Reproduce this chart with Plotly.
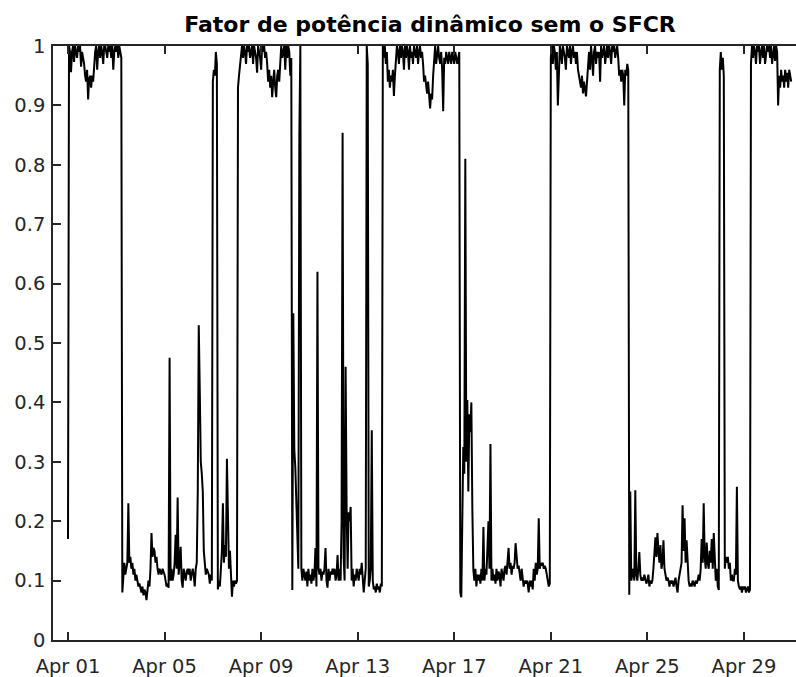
import plotly.graph_objects as go
import pandas as pd

# Hourly dynamic power factor, April (one list per day, 24 hourly values)
apr01 = [0.17, 1.0, 0.99, 0.956, 0.99, 1.0, 0.973, 1.0, 0.99, 0.98, 1.0, 0.99, 1.0, 0.965, 0.99, 0.98, 0.97, 0.95, 0.94, 0.96, 0.91, 0.945, 0.95, 0.93]
apr02 = [0.95, 0.94, 0.97, 0.99, 1.0, 0.96, 0.99, 1.0, 0.98, 1.0, 0.99, 0.97, 1.0, 1.0, 0.99, 0.98, 1.0, 0.99, 1.0, 0.98, 1.0, 0.96, 0.99, 1.0]
apr03 = [0.99, 1.0, 0.98, 1.0, 0.99, 0.98, 0.08, 0.10, 0.13, 0.11, 0.12, 0.13, 0.23, 0.13, 0.14, 0.12, 0.13, 0.11, 0.12, 0.10, 0.11, 0.10, 0.09, 0.095]
apr04 = [0.085, 0.08, 0.09, 0.075, 0.085, 0.08, 0.067, 0.08, 0.10, 0.09, 0.12, 0.18, 0.14, 0.155, 0.15, 0.13, 0.14, 0.12, 0.11, 0.12, 0.115, 0.11, 0.12, 0.115]
apr05 = [0.11, 0.10, 0.09, 0.095, 0.088, 0.475, 0.10, 0.12, 0.10, 0.11, 0.13, 0.177, 0.12, 0.24, 0.11, 0.13, 0.157, 0.10, 0.088, 0.12, 0.11, 0.10, 0.115, 0.12]
apr06 = [0.11, 0.12, 0.10, 0.115, 0.12, 0.11, 0.09, 0.12, 0.13, 0.25, 0.53, 0.42, 0.30, 0.28, 0.25, 0.15, 0.12, 0.11, 0.12, 0.115, 0.11, 0.095, 0.11, 0.10]
apr07 = [0.94, 0.96, 0.95, 0.99, 0.97, 0.085, 0.10, 0.09, 0.12, 0.15, 0.23, 0.13, 0.16, 0.14, 0.305, 0.18, 0.12, 0.15, 0.10, 0.073, 0.10, 0.09, 0.10, 0.095]
apr08 = [0.10, 0.93, 0.95, 0.97, 0.99, 1.0, 0.98, 1.0, 0.99, 0.97, 1.0, 0.99, 1.0, 0.98, 0.99, 1.0, 0.97, 1.0, 0.99, 0.98, 0.955, 1.0, 0.99, 0.98]
apr09 = [0.96, 1.0, 0.99, 1.0, 0.98, 0.99, 0.97, 0.94, 0.96, 0.93, 0.95, 0.914, 0.94, 0.96, 0.93, 0.914, 0.95, 0.96, 0.94, 0.98, 1.0, 0.98, 0.99, 1.0]
apr10 = [0.96, 1.0, 0.98, 1.0, 0.99, 0.95, 0.98, 0.084, 0.55, 0.32, 0.29, 0.22, 0.20, 0.12, 0.85, 1.0, 0.12, 0.10, 0.12, 0.11, 0.10, 0.115, 0.09, 0.12]
apr11 = [0.10, 0.11, 0.095, 0.12, 0.10, 0.11, 0.155, 0.09, 0.62, 0.12, 0.11, 0.12, 0.10, 0.115, 0.11, 0.12, 0.155, 0.10, 0.088, 0.12, 0.10, 0.115, 0.11, 0.12]
apr12 = [0.11, 0.12, 0.10, 0.11, 0.143, 0.10, 0.12, 0.10, 0.20, 0.854, 0.14, 0.10, 0.46, 0.22, 0.12, 0.215, 0.20, 0.224, 0.10, 0.12, 0.09, 0.11, 0.10, 0.12]
apr13 = [0.11, 0.10, 0.12, 0.11, 0.13, 0.10, 0.08, 0.10, 0.12, 1.0, 0.97, 0.09, 0.10, 0.12, 0.353, 0.10, 0.085, 0.09, 0.08, 0.095, 0.085, 0.09, 0.08, 0.095]
apr14 = [0.09, 1.0, 0.98, 1.0, 0.97, 0.99, 0.94, 0.96, 0.93, 0.95, 0.94, 0.96, 0.916, 0.95, 0.98, 1.0, 0.99, 0.97, 1.0, 0.98, 1.0, 0.99, 0.96, 1.0]
apr15 = [0.98, 1.0, 0.99, 0.96, 1.0, 0.98, 0.99, 0.97, 1.0, 0.99, 0.98, 1.0, 0.97, 0.99, 1.0, 0.98, 0.99, 0.97, 0.94, 0.95, 0.93, 0.92, 0.94, 0.91]
apr16 = [0.895, 0.92, 0.91, 0.95, 0.98, 1.0, 0.97, 0.99, 1.0, 0.98, 0.97, 0.99, 0.96, 0.89, 0.98, 0.97, 0.99, 0.98, 0.97, 0.99, 0.98, 0.97, 0.99, 0.98]
apr17 = [0.97, 0.99, 0.98, 0.97, 0.98, 0.99, 0.08, 0.072, 0.20, 0.325, 0.28, 0.81, 0.30, 0.404, 0.25, 0.38, 0.35, 0.40, 0.22, 0.118, 0.10, 0.12, 0.09, 0.11]
apr18 = [0.10, 0.11, 0.095, 0.12, 0.10, 0.19, 0.10, 0.12, 0.11, 0.18, 0.20, 0.12, 0.33, 0.10, 0.12, 0.10, 0.11, 0.095, 0.12, 0.10, 0.115, 0.11, 0.09, 0.12]
apr19 = [0.11, 0.10, 0.12, 0.125, 0.11, 0.13, 0.155, 0.12, 0.13, 0.11, 0.125, 0.12, 0.13, 0.163, 0.13, 0.12, 0.125, 0.11, 0.10, 0.12, 0.10, 0.09, 0.10, 0.095]
apr20 = [0.10, 0.095, 0.08, 0.10, 0.09, 0.10, 0.085, 0.12, 0.10, 0.13, 0.11, 0.12, 0.205, 0.12, 0.13, 0.125, 0.13, 0.12, 0.125, 0.12, 0.11, 0.10, 0.09, 0.095]
apr21 = [0.98, 1.0, 0.97, 1.0, 0.99, 0.96, 0.99, 0.90, 0.98, 1.0, 0.99, 0.97, 1.0, 0.99, 0.98, 0.96, 1.0, 0.99, 0.98, 1.0, 0.97, 0.99, 1.0, 0.98]
apr22 = [0.99, 0.97, 0.99, 0.96, 0.95, 0.94, 0.93, 0.95, 0.92, 0.94, 0.93, 0.915, 0.94, 0.97, 0.99, 0.96, 1.0, 0.98, 0.95, 0.99, 1.0, 0.97, 0.99, 0.98]
apr23 = [0.99, 0.94, 1.0, 0.98, 0.99, 1.0, 0.97, 0.99, 1.0, 0.98, 1.0, 0.99, 0.97, 1.0, 0.99, 1.0, 0.98, 0.99, 1.0, 0.98, 0.95, 0.96, 0.94, 0.96]
apr24 = [0.95, 0.90, 0.96, 0.95, 0.97, 0.96, 0.076, 0.25, 0.10, 0.11, 0.12, 0.10, 0.252, 0.11, 0.10, 0.12, 0.148, 0.11, 0.10, 0.105, 0.10, 0.11, 0.10, 0.095]
apr25 = [0.10, 0.11, 0.09, 0.10, 0.095, 0.10, 0.12, 0.15, 0.173, 0.14, 0.18, 0.15, 0.13, 0.16, 0.12, 0.13, 0.168, 0.12, 0.11, 0.10, 0.105, 0.10, 0.09, 0.10]
apr26 = [0.095, 0.10, 0.09, 0.10, 0.105, 0.09, 0.08, 0.10, 0.11, 0.12, 0.13, 0.227, 0.15, 0.205, 0.13, 0.168, 0.12, 0.10, 0.09, 0.095, 0.09, 0.10, 0.095, 0.09]
apr27 = [0.10, 0.095, 0.10, 0.11, 0.10, 0.12, 0.17, 0.13, 0.23, 0.14, 0.12, 0.164, 0.13, 0.12, 0.15, 0.13, 0.17, 0.12, 0.18, 0.13, 0.10, 0.12, 0.09, 0.084]
apr28 = [0.96, 0.99, 0.96, 0.98, 0.95, 0.12, 0.14, 0.13, 0.14, 0.12, 0.13, 0.10, 0.11, 0.10, 0.10, 0.12, 0.11, 0.258, 0.10, 0.09, 0.085, 0.09, 0.08, 0.09]
apr29 = [0.085, 0.09, 0.08, 0.085, 0.09, 0.08, 0.085, 0.97, 1.0, 0.98, 1.0, 0.99, 0.97, 1.0, 0.99, 1.0, 0.97, 0.99, 1.0, 0.98, 1.0, 0.97, 0.99, 1.0]
apr30 = [0.99, 1.0, 0.98, 1.0, 0.97, 0.99, 1.0, 0.975, 1.0, 0.99, 0.90, 0.95, 0.93, 0.96, 0.94, 0.95, 0.93, 0.96, 0.94, 0.955, 0.93, 0.96, 0.95, 0.94]

start_time = "2019-04-01 00:00"

x_tick_dates = ["2019-04-01", "2019-04-05", "2019-04-09", "2019-04-13", "2019-04-17",
                "2019-04-21", "2019-04-25", "2019-04-29"]
x_tick_labels = ["Apr 01", "Apr 05", "Apr 09", "Apr 13", "Apr 17", "Apr 21", "Apr 25", "Apr 29"]
y_tick_vals = [0, 0.1, 0.2, 0.3, 0.4, 0.5, 0.6, 0.7, 0.8, 0.9, 1]
y_tick_labels = ["0", "0.1", "0.2", "0.3", "0.4", "0.5", "0.6", "0.7", "0.8", "0.9", "1"]

title_text = "Fator de potência dinâmico sem o SFCR"

days = [apr01, apr02, apr03, apr04, apr05, apr06, apr07, apr08, apr09, apr10,
        apr11, apr12, apr13, apr14, apr15, apr16, apr17, apr18, apr19, apr20,
        apr21, apr22, apr23, apr24, apr25, apr26, apr27, apr28, apr29, apr30]
fp = [v for d in days for v in d]
t = pd.date_range(start_time, periods=len(fp), freq="h")

AX = "#262626"
FONT = "DejaVu Sans"

fig = go.Figure()
fig.add_trace(go.Scatter(x=t, y=fp, mode="lines",
                         line=dict(color="black", width=2),
                         showlegend=False, hoverinfo="skip"))

fig.update_layout(
    width=796, height=677,
    margin=dict(l=53, r=0, t=46, b=37, autoexpand=False),
    paper_bgcolor="white", plot_bgcolor="white",
    title=dict(text="<b>" + title_text + "</b>", x=430 / 796, xref="container",
               xanchor="center", y=1 - 24 / 677, yref="container", yanchor="middle",
               font=dict(family=FONT, size=22, color="black")),
)
fig.update_xaxes(
    range=["2019-03-31 09:05", "2019-05-01 03:46"],
    tickmode="array", tickvals=x_tick_dates, ticktext=x_tick_labels,
    ticks="inside", ticklen=8, tickwidth=1.5, tickcolor=AX,
    showline=True, linecolor=AX, linewidth=1.5, mirror="ticks",
    showgrid=False, zeroline=False, ticklabelstandoff=8,
    tickfont=dict(family=FONT, size=19.5, color=AX),
)
fig.update_yaxes(
    range=[0, 1],
    tickmode="array", tickvals=y_tick_vals, ticktext=y_tick_labels,
    ticks="inside", ticklen=8, tickwidth=1.5, tickcolor=AX,
    showline=True, linecolor=AX, linewidth=1.5, mirror=False,
    showgrid=False, zeroline=False, ticklabelstandoff=2,
    tickfont=dict(family=FONT, size=19.5, color=AX),
)

fig.write_html("out.html", config={"displayModeBar": False},
               post_script="document.body.style.margin='0px';document.body.style.overflow='hidden';")
